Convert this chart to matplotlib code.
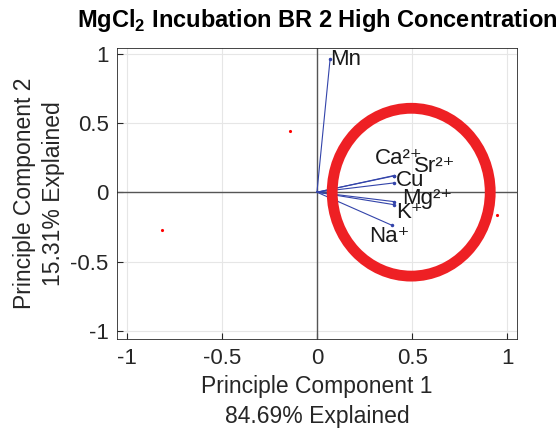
import matplotlib
matplotlib.use('Agg')
import matplotlib.pyplot as plt
from matplotlib.patches import Ellipse

plt.rcParams['font.family'] = ['Liberation Sans', 'DejaVu Sans']
plt.rcParams['mathtext.fontset'] = 'custom'
plt.rcParams['mathtext.rm'] = 'Liberation Sans'
plt.rcParams['mathtext.bf'] = 'Liberation Sans:bold'

# loadings (PC1, PC2) for each variable
var_names = ['Mn', 'Ca²⁺', 'Sr²⁺', 'Cu', 'Mg²⁺', 'K⁺', 'Na⁺']
pc1_load = [0.069, 0.404, 0.407, 0.405, 0.405, 0.405, 0.396]
pc2_load = [0.960, 0.120, 0.118, 0.067, -0.068, -0.090, -0.240]
# label offsets from vector end (data units)
lab_dx = [0.002, -0.098, 0.102, 0.01, 0.041, 0.01, -0.121]
lab_dy = [0.0, 0.12, 0.064, 0.014, 0.02, -0.059, -0.083]

# observation scores
obs_pc1 = [-0.814, -0.139, 0.948]
obs_pc2 = [-0.270, 0.440, -0.164]

pct1 = 84.69
pct2 = 15.31

fig = plt.figure(figsize=(5.6, 4.36), dpi=100)
ax = fig.add_axes([0.209, 0.222, 0.714, 0.668])

ax.axhline(0, color='#555555', lw=1.0, zorder=1)
ax.axvline(0, color='#555555', lw=1.0, zorder=1)

for i in range(len(var_names)):
    ax.plot([0, pc1_load[i]], [0, pc2_load[i]], color='#3344aa', lw=0.8, zorder=2)
    ax.plot(pc1_load[i], pc2_load[i], '.', color='#3344aa', ms=3, zorder=3)
    ax.text(pc1_load[i] + lab_dx[i], pc2_load[i] + lab_dy[i], var_names[i],
            fontsize=16, va='center', ha='left', color='#1a1a1a', zorder=4)

ax.plot(obs_pc1, obs_pc2, '.', color='red', ms=2.5, zorder=3)

# red circle highlight
circ = Ellipse((0.495, 0.0), 0.83, 1.21, fill=False, ec='#ee2024', lw=7.8, zorder=5)
ax.add_patch(circ)

ax.set_xlim(-1.05, 1.05)
ax.set_ylim(-1.06, 1.04)
ax.set_xticks([-1, -0.5, 0, 0.5, 1])
ax.set_yticks([-1, -0.5, 0, 0.5, 1])
ax.set_xticklabels(['-1', '-0.5', '0', '0.5', '1'])
ax.set_yticklabels(['-1', '-0.5', '0', '0.5', '1'])
ax.tick_params(direction='in', labelsize=16, length=4, colors='#262626', pad=6)
ax.grid(True, color='#e6e6e6', lw=0.8)
ax.set_axisbelow(True)
for s in ax.spines.values():
    s.set_color('#262626')
    s.set_linewidth(0.6)

ax.set_xlabel('Principle Component 1\n%.2f%% Explained' % pct1, fontsize=16.5,
              color='#262626', labelpad=5, linespacing=1.35)
ax.set_ylabel('Principle Component 2\n%.2f%% Explained' % pct2, fontsize=16.5,
              color='#262626', labelpad=4, linespacing=1.35)
ax.set_title(r'MgCl$_\mathbf{2}$ Incubation BR 2 High Concentration', fontsize=17,
             fontweight='bold', pad=15)

fig.savefig('out.png', dpi=100)
